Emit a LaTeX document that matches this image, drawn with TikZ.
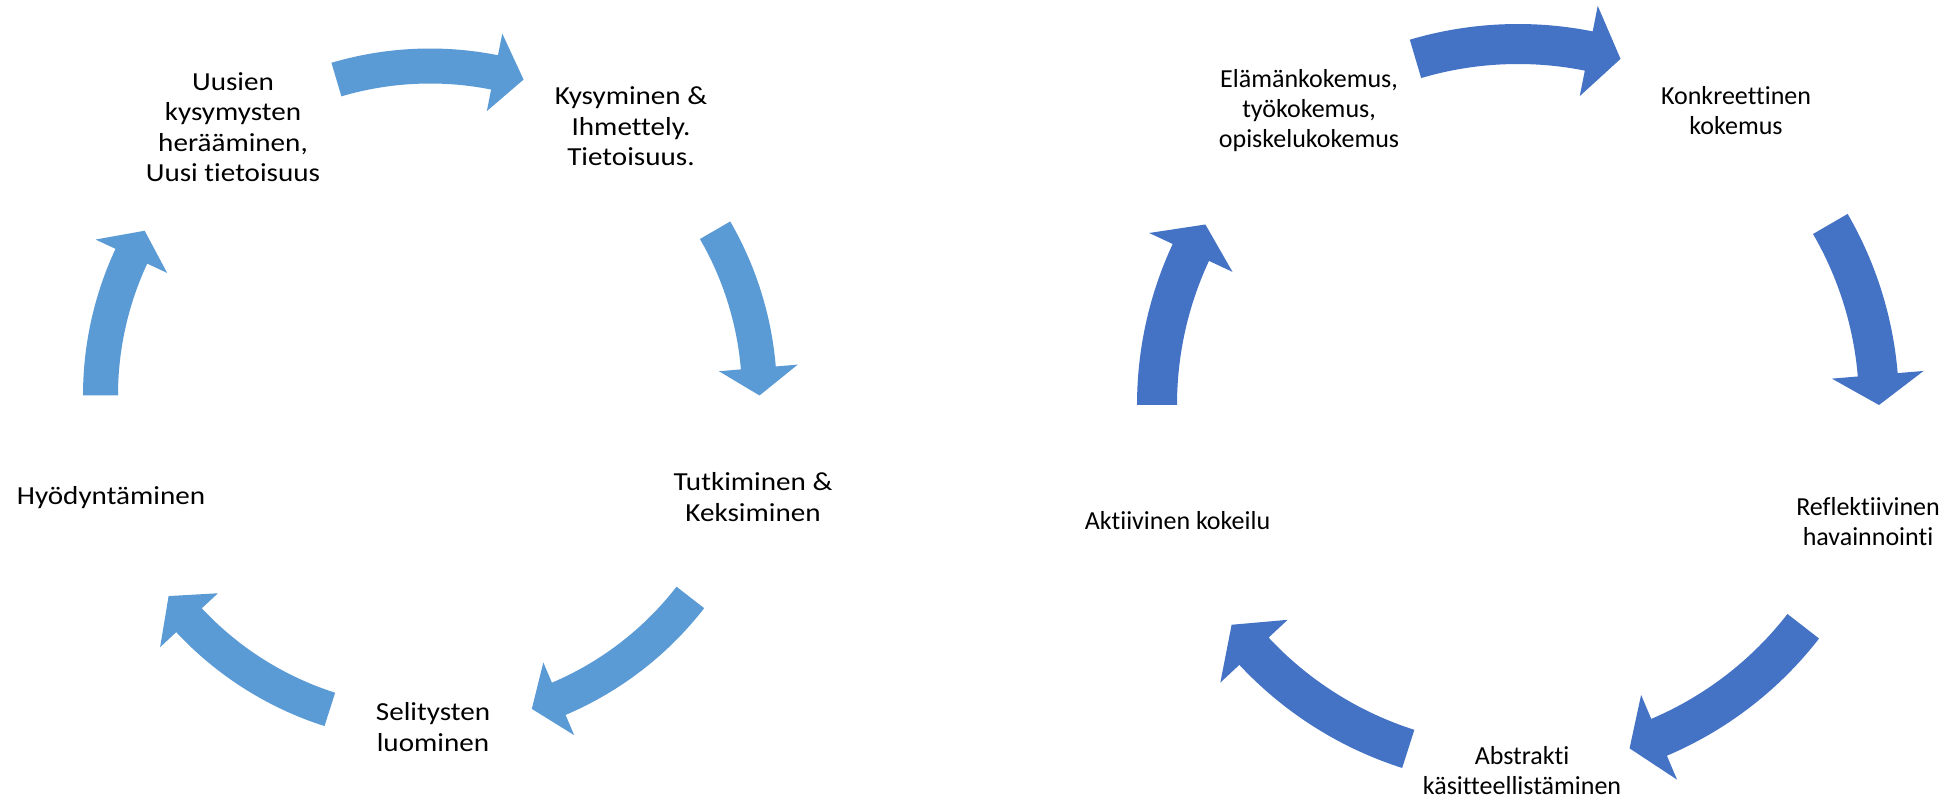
\documentclass[tikz,border=0pt]{standalone}
\usepackage{fontspec}
\setmainfont{Carlito}[Ligatures={NoCommon}]
\definecolor{lightb}{HTML}{5B9BD5}
\definecolor{darkb}{HTML}{4472C4}
% #1 colour, #2 mid radius, #3 half width, #4 head half width,
% #5 tail angle, #6 head base angle, #7 tip angle
\newcommand{\cycarrow}[7]{%
  \pgfmathsetmacro\cyRo{#2+#3}\pgfmathsetmacro\cyRi{#2-#3}%
  \pgfmathsetmacro\cyHo{#2+#4}\pgfmathsetmacro\cyHi{#2-#4}%
  \fill[#1] (#5:\cyRo) arc[start angle=#5,end angle=#6,radius=\cyRo]
    -- (#6:\cyHo) -- (#7:#2) -- (#6:\cyHi) -- (#6:\cyRi)
    arc[start angle=#6,end angle=#5,radius=\cyRi] -- cycle;}
\tikzset{
  lbl/.style={align=center, inner sep=0pt, text=black},
  lt/.style={lbl, font=\fontsize{13}{15.25}\selectfont, xscale=1.12},
  rt/.style={lbl, font=\fontsize{13}{15}\selectfont}
}
\begin{document}
\begin{tikzpicture}[x=0.5pt,y=-0.5pt]
\fill[white] (0,0) rectangle (1941,801);
\useasboundingbox (0,0) rectangle (1941,801);
\coordinate (LC) at (430,395.5);
\coordinate (RC) at (1518,405);
% left cycle arrows
\begin{scope}[shift={(LC)}]
  \cycarrow{lightb}{329.5}{17.5}{39.5}{-106.5}{-78.7}{-73.5}
  \cycarrow{lightb}{329.5}{17.5}{39.5}{-30.1}{-4.8}{0}
  \cycarrow{lightb}{329.5}{17.5}{39.5}{37.8}{67}{72}
  \cycarrow{lightb}{329.5}{17.5}{39.5}{107.7}{137}{142.5}
  \cycarrow{lightb}{329.5}{17.5}{39.5}{180}{205}{210}
\end{scope}
% right cycle arrows
\begin{scope}[shift={(RC)}]
  \cycarrow{darkb}{361}{20}{46}{-106.5}{-78.7}{-73.5}
  \cycarrow{darkb}{361}{20}{46}{-30.1}{-4.8}{0}
  \cycarrow{darkb}{361}{20}{46}{37.8}{67}{72}
  \cycarrow{darkb}{361}{20}{46}{107.7}{137}{142.5}
  \cycarrow{darkb}{361}{20}{46}{180}{205}{210}
\end{scope}
% left cycle texts
\node[lt] (uusi) at (233,127) {Uusien\\kysymysten\\herääminen,\\Uusi tietoisuus};
\node[lt] (kys) at (631,126.5) {Kysyminen \&\\Ihmettely.\\Tietoisuus.};
\node[lt] (tutk) at (753,497) {Tutkiminen \&\\Keksiminen};
\node[lt] (hyod) at (111,498) {Hyödyntäminen};
\node[lt] (selit) at (433,727) {Selitysten\\luominen};
% right cycle texts
\node[rt] (elam) at (1309,111) {Elämänkokemus,\\työkokemus,\\opiskelukokemus};
\node[rt] (konk) at (1736,111) {Konkreettinen\\kokemus};
\node[rt] (refl) at (1868,522) {Reflektiivinen\\havainnointi};
\node[rt] (akt) at (1177.5,521) {Aktiivinen kokeilu};
\node[rt] (abst) at (1522,771) {Abstrakti\\käsitteellistäminen};
\end{tikzpicture}
\end{document}
